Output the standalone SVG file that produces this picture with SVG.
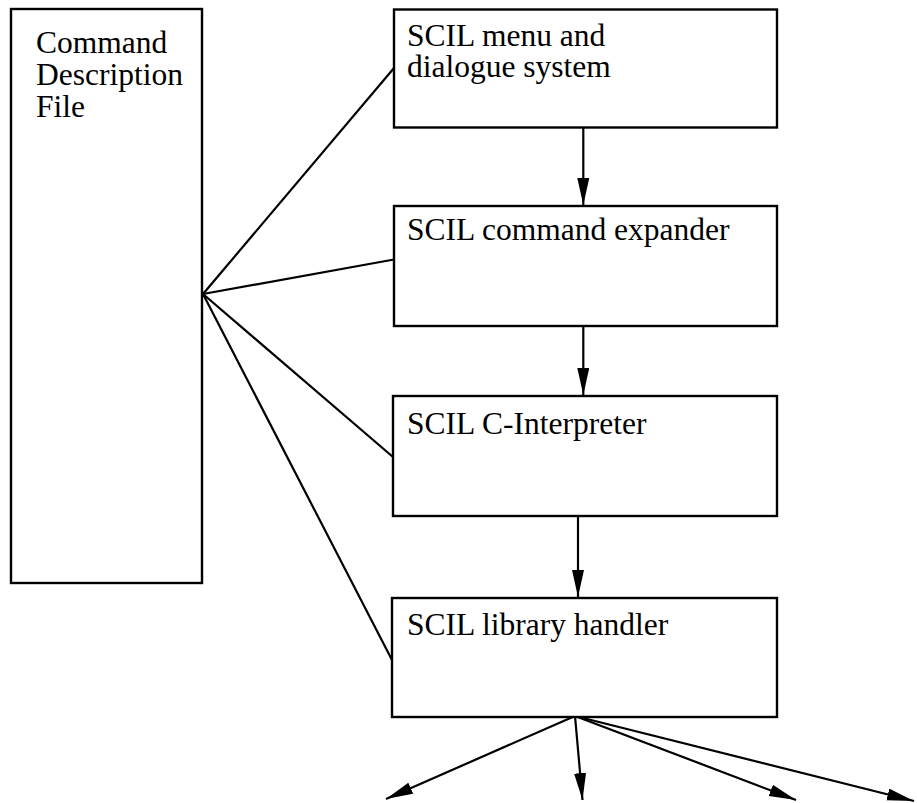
<svg xmlns="http://www.w3.org/2000/svg" width="917" height="803" viewBox="0 0 917 803">
  <style>
    .box { fill: #ffffff; stroke: #000000; stroke-width: 2.4; }
    .lbl { font-family: "Liberation Serif", "Times New Roman", serif; font-size: 31.5px; fill: #000000; }
    .edge { fill: none; stroke: #000000; stroke-width: 2.2; }
    .arr { marker-end: url(#ah); }
  </style>
  <defs>
    <marker id="ah" markerUnits="userSpaceOnUse" markerWidth="28" markerHeight="14" refX="27" refY="6" orient="auto">
      <path d="M0,0 L27,6 L0,12 Z" fill="#000000"/>
    </marker>
  </defs>
  <rect x="0" y="0" width="917" height="803" fill="#ffffff"/>

  <g id="connectors">
    <line class="edge" x1="203" y1="294" x2="394" y2="68"/>
    <line class="edge" x1="203" y1="294" x2="394" y2="259.5"/>
    <line class="edge" x1="203" y1="294" x2="393" y2="457"/>
    <line class="edge" x1="203" y1="294" x2="392" y2="660"/>
    <line class="edge arr" x1="583.3" y1="128" x2="583.3" y2="205"/>
    <line class="edge arr" x1="583.3" y1="326" x2="583.3" y2="395"/>
    <line class="edge arr" x1="578" y1="516" x2="578" y2="597"/>
    <line class="edge arr" x1="575" y1="716" x2="386" y2="799"/>
    <line class="edge arr" x1="575" y1="716" x2="582.5" y2="800"/>
    <line class="edge arr" x1="575" y1="716" x2="796" y2="800"/>
    <line class="edge arr" x1="575" y1="716" x2="914" y2="801"/>
  </g>

  <g id="node-cdf">
    <rect class="box" x="11" y="9" width="191" height="574"/>
    <text class="lbl" x="36" y="53">Command</text>
    <text class="lbl" x="36" y="85">Description</text>
    <text class="lbl" x="36" y="117">File</text>
  </g>

  <g id="node-menu">
    <rect class="box" x="394" y="9.5" width="383" height="118"/>
    <text class="lbl" x="407" y="46">SCIL menu and</text>
    <text class="lbl" x="407" y="77">dialogue system</text>
  </g>

  <g id="node-expander">
    <rect class="box" x="394" y="206" width="383" height="120"/>
    <text class="lbl" x="407" y="239.5">SCIL command expander</text>
  </g>

  <g id="node-interpreter">
    <rect class="box" x="393" y="396" width="384" height="120"/>
    <text class="lbl" x="407" y="434">SCIL C-Interpreter</text>
  </g>

  <g id="node-library">
    <rect class="box" x="392" y="598" width="385" height="119"/>
    <text class="lbl" x="407" y="635">SCIL library handler</text>
  </g>
</svg>
